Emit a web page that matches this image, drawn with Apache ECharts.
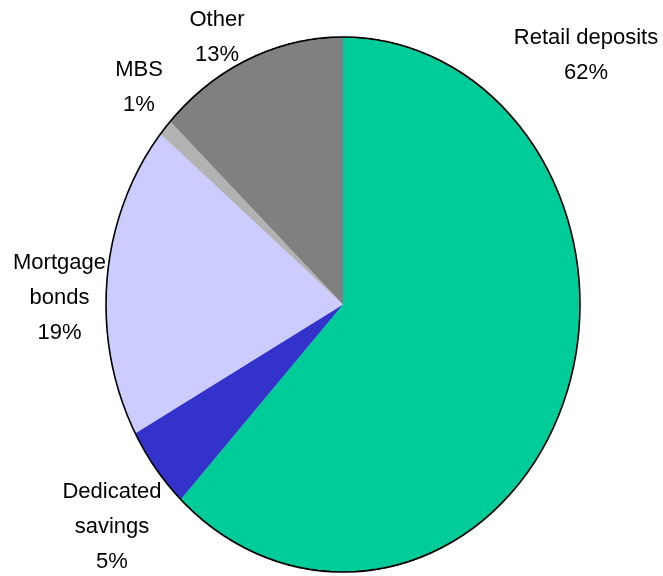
<!DOCTYPE html>
<html>
<head>
<meta charset="utf-8">
<script src="https://cdn.jsdelivr.net/npm/echarts@6/dist/echarts.min.js"></script>
<style>
  html, body { margin: 0; padding: 0; background: #fff; overflow: hidden; }
  #wrap { position: relative; width: 663px; height: 576px; overflow: hidden; }
  /* the disc is drawn round, then stretched vertically into an ellipse */
  #disc { position: absolute; left: 0; top: 0; width: 663px; height: 576px;
          transform: scaleY(1.1287); transform-origin: 0 304.5px; }
  #labels { position: absolute; left: 0; top: 0; width: 663px; height: 576px; }
</style>
</head>
<body>
<div id="wrap">
  <div id="disc"></div>
  <div id="labels"></div>
</div>
<script>
// Funding mix
const categories = ['Retail deposits', 'Dedicated savings', 'Mortgage bonds', 'MBS', 'Other'];
const labelText = ['Retail deposits', 'Dedicated\nsavings', 'Mortgage\nbonds', 'MBS', 'Other'];
const shares = [62, 5, 19, 1, 13];
const colours = ['#00CC99', '#3333CC', '#CCCCFF', '#B2B2B2', '#808080'];

const sliceData = categories.map((name, i) => ({
  name: name,
  value: shares[i],
  itemStyle: { color: colours[i] }
}));
// same values, no fill: only carries the labels
const labelData = categories.map((name, i) => ({ name: name, value: shares[i] }));

const CENTER = [343, 304.5];
const RADIUS = 237;

// Slices plus an outline ring around the whole disc
const disc = echarts.init(document.getElementById('disc'), null, { renderer: 'canvas', devicePixelRatio: 2 });
disc.setOption({
  animation: false,
  series: [
    {
      type: 'pie',
      center: CENTER,
      radius: [0, RADIUS],
      startAngle: 90,
      clockwise: true,
      silent: true,
      label: { show: false },
      labelLine: { show: false },
      emphasis: { disabled: true },
      itemStyle: { borderWidth: 0, borderColor: 'rgba(0,0,0,0)', borderRadius: 0 },
      padAngle: 0,
      minAngle: 0,
      data: sliceData
    },
    {
      type: 'pie',
      center: CENTER,
      radius: [0, RADIUS],
      silent: true,
      label: { show: false },
      labelLine: { show: false },
      emphasis: { disabled: true },
      itemStyle: { color: 'rgba(0,0,0,0)', borderColor: '#000', borderWidth: 1.6 },
      data: [{ name: 'outline', value: 1 }]
    }
  ]
});

// Label block centres (pixels) for each slice
const LABEL_ANCHORS = [[586, 55], [112, 527], [59.5, 298], [139, 87], [217, 37]];

const labels = echarts.init(document.getElementById('labels'));
labels.setOption({
  animation: false,
  series: [{
    type: 'pie',
    center: CENTER,
    radius: [0, RADIUS],
    startAngle: 90,
    silent: true,
    avoidLabelOverlap: false,
    emphasis: { disabled: true },
    itemStyle: { color: 'rgba(0,0,0,0)', borderWidth: 0 },
    label: {
      show: true,
      position: 'outside',
      color: '#000',
      fontFamily: 'Liberation Sans, Arial, sans-serif',
      fontSize: 22,
      lineHeight: 35,
      align: 'center',
      formatter: p => labelText[p.dataIndex] + '\n' + Math.round(p.percent) + '%'
    },
    labelLine: { show: false },
    labelLayout: p => ({
      x: LABEL_ANCHORS[p.dataIndex][0],
      y: LABEL_ANCHORS[p.dataIndex][1],
      align: 'center',
      verticalAlign: 'middle'
    }),
    data: labelData
  }]
});
</script>
</body>
</html>
